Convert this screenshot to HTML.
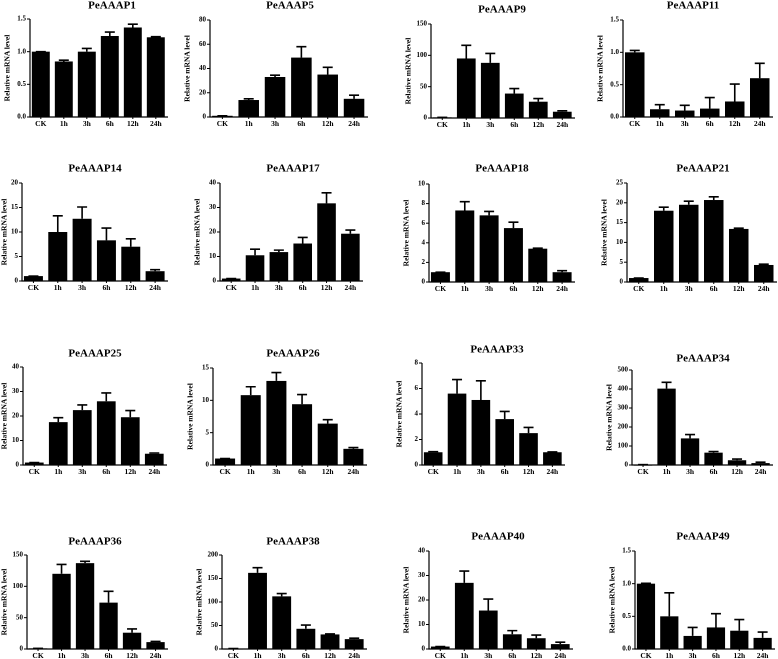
<!DOCTYPE html>
<html><head><meta charset="utf-8">
<style>
html,body{margin:0;padding:0;background:#fff;}
svg{display:block;}
text{font-family:"Liberation Serif",serif;font-weight:bold;fill:#000;}
</style></head>
<body>
<svg id="fig" width="778" height="659" viewBox="0 0 778 659" xmlns="http://www.w3.org/2000/svg"></svg>
<script>
const categories = ["CK","1h","3h","6h","12h","24h"];
const titles = ["PeAAAP1","PeAAAP5","PeAAAP9","PeAAAP11","PeAAAP14","PeAAAP17","PeAAAP18","PeAAAP21","PeAAAP25","PeAAAP26","PeAAAP33","PeAAAP34","PeAAAP36","PeAAAP38","PeAAAP40","PeAAAP49"];
const yMax = [1.5,80,150,1.5,20,40,10,25,40,15,8,500,150,200,40,1.5];
const yStep = [0.5,20,50,0.5,5,10,2,5,10,5,2,100,50,50,10,0.5];
const yDecimals = [1,0,0,1,0,0,0,0,0,0,0,0,0,0,0,1];
const values1 = [1.0,0.85,1.0,1.24,1.37,1.22];
const errors1 = [0,0.02,0.05,0.06,0.05,0.01];
const values5 = [1,14,33,49,35,15];
const errors5 = [0,1,1.5,9,6,3];
const values9 = [1,95,88,39,26,10];
const errors9 = [0,21,15,8,5,1.5];
const values11 = [1.0,0.12,0.1,0.13,0.24,0.6];
const errors11 = [0.03,0.07,0.08,0.17,0.27,0.23];
const values14 = [1,10,12.7,8.3,7,2];
const errors14 = [0,3.3,2.4,2.5,1.6,0.3];
const values17 = [1,10.5,11.8,15.3,31.7,19.3];
const errors17 = [0,2.5,0.8,2.5,4.3,1.5];
const values18 = [1,7.3,6.8,5.5,3.4,1];
const errors18 = [0,0.9,0.4,0.6,0.05,0.15];
const values21 = [1,18,19.5,20.7,13.4,4.3];
const errors21 = [0,0.9,0.9,0.8,0.2,0.2];
const values25 = [1,17.5,22.4,26,19.5,4.6];
const errors25 = [0,1.8,2.1,3.4,2.7,0.3];
const values26 = [1,10.8,13,9.4,6.4,2.5];
const errors26 = [0,1.3,1.3,1.5,0.6,0.2];
const values33 = [1,5.6,5.1,3.6,2.5,1];
const errors33 = [0.05,1.1,1.5,0.6,0.45,0.03];
const values34 = [2,402,140,65,25,10];
const errors34 = [0,33,20,6,6,5];
const values36 = [1,120,137,74,26,11];
const errors36 = [0,15,3,18,6,1];
const values38 = [1,162,112,43,31,21];
const errors38 = [0,11,6,8,1,2];
const values40 = [1,27,15.7,6,4.4,2];
const errors40 = [0,4.8,4.7,1.5,1.3,0.8];
const values49 = [1,0.5,0.2,0.33,0.28,0.17];
const errors49 = [0.005,0.36,0.13,0.21,0.17,0.09];
const allValues = [values1,values5,values9,values11,values14,values17,values18,values21,values25,values26,values33,values34,values36,values38,values40,values49];
const allErrors = [errors1,errors5,errors9,errors11,errors14,errors17,errors18,errors21,errors25,errors26,errors33,errors34,errors36,errors38,errors40,errors49];

// layout (pixel geometry, not data): axisX, topY, zeroY, rightX, titleX, titleY
const layout = [
 [30,19,117,168,112,6],[210,20,117,368,290,6],[431,24,118,575,502,10],[623,20,117,773,693,6],
 [22,183,281,168,95,169],[220,183,281,363,293,169],[429,184,282,575,502,169],[627,183,282,777,703,169],
 [23,367,465,167,95,354],[213,368,465,367,293,354],[422,363,465,565,497,350],[632,370,465,773,703,359],
 [27,555,649,168,95,542],[222,555,649,367,293,542],[429,551,649,573,498,537],[635,551,649,775,703,537]
];

const NS = "http://www.w3.org/2000/svg";
const svg = document.getElementById("fig");
function mk(tag, attrs, parent){
  const e = document.createElementNS(NS, tag);
  for (const k in attrs) e.setAttribute(k, attrs[k]);
  parent.appendChild(e);
  return e;
}

titles.forEach((title, p) => {
  const [ax, top, zero, right, tx, ty] = layout[p];
  const vals = allValues[p], errs = allErrors[p];
  const g = mk("g", {}, svg);
  
  
  const yScale = v => zero - (v / yMax[p]) * (zero - top);
  const band = (right - ax) / categories.length;
  const xCenter = i => ax + band * (i + 0.47);
  const barW = band * 0.78;

  const t = mk("text", {x: tx, y: ty, "text-anchor": "middle", "font-size": "11", "dominant-baseline": "middle"}, g);
  t.textContent = title;
  
  

  vals.forEach((v, i) => {
    const cx = xCenter(i);
    const yv = yScale(v);
    const bar = mk("rect", {x: cx - barW/2, y: yv, width: barW, height: Math.max(zero - yv, 1), fill: "#000"}, g);
    
    
    const ye = yScale(v + errs[i]);
    if (zero - ye > 0) {
      const eb = mk("path", {d: `M${cx},${yv} V${ye} M${cx-5},${ye} H${cx+5}`, stroke: "#000", "stroke-width": "1.6", fill: "none"}, g);
      
      
    }
  });

  const axes = mk("path", {d: `M${ax},${top} V${zero} H${right}`, stroke: "#000", "stroke-width": "1.2", fill: "none"}, g);
  
  

  const n = Math.round(yMax[p] / yStep[p]);
  for (let k = 0; k <= n; k++) {
    const v = k * yStep[p];
    const y = yScale(v);
    mk("line", {x1: ax - 3, x2: ax, y1: y, y2: y, stroke: "#000", "stroke-width": "1"}, g);
    const lb = mk("text", {x: ax - 4, y: y, "text-anchor": "end", "font-size": "7", "dominant-baseline": "middle"}, g);
    lb.textContent = v.toFixed(yDecimals[p]);
    
    
  }
  categories.forEach((c, i) => {
    const cx = xCenter(i);
    mk("line", {x1: cx, x2: cx, y1: zero, y2: zero + 2, stroke: "#000", "stroke-width": "1"}, g);
    const lb = mk("text", {x: cx, y: zero + 7.5, "text-anchor": "middle", "font-size": "7.5", "dominant-baseline": "middle"}, g);
    lb.textContent = c;
    
    
  });
  const my = (top + zero) / 2;
  const ytx = Math.max(5, ax - 22);
  const yt = mk("text", {x: 0, y: 0, transform: `translate(${ytx},${my}) rotate(-90)`, "text-anchor": "middle", "font-size": "7.5", "dominant-baseline": "middle"}, g);
  yt.textContent = "Relative mRNA level";
  
  
});
</script>
</body></html>
